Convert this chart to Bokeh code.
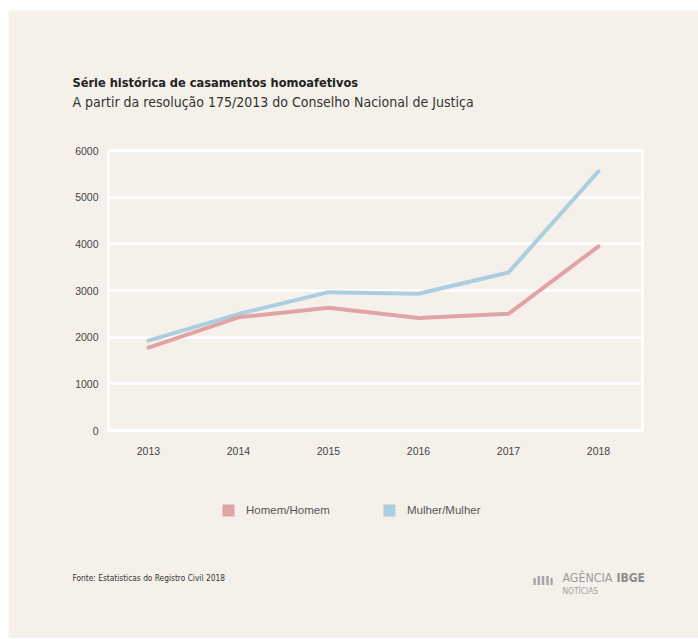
from bokeh.plotting import figure
from bokeh.models import (ColumnDataSource, FixedTicker, Label, Legend, LegendItem, Range1d)
from bokeh.embed import file_html
from bokeh.resources import INLINE

# ---- data ----
years = [2013, 2014, 2015, 2016, 2017, 2018]
homem_homem = [1775, 2425, 2630, 2410, 2500, 3945]
mulher_mulher = [1925, 2495, 2965, 2930, 3385, 5555]
y_ticks = [0, 1000, 2000, 3000, 4000, 5000, 6000]

title_text = "Série histórica de casamentos homoafetivos"
subtitle_text = "A partir da resolução 175/2013 do Conselho Nacional de Justiça"
source_text = "Fonte: Estatisticas do Registro Civil 2018"
series_names = ["Homem/Homem", "Mulher/Mulher"]

BG = "#f5f1ea"
RED = "#e0a4a6"
BLUE = "#a9cfe0"
COND = "DejaVu Sans Condensed"
SANS = "Liberation Sans"
W = 690


def blank_fig(height, margin):
    f = figure(width=W, height=height, output_backend="svg", toolbar_location=None,
               x_range=Range1d(0, W), y_range=Range1d(0, height),
               x_axis_type=None, y_axis_type=None, min_border=0, margin=margin)
    f.background_fill_color = BG
    f.border_fill_color = BG
    f.outline_line_color = None
    f.xgrid.visible = False
    f.ygrid.visible = False
    return f


def lab(f, text, x, y, font, size, color, style="normal"):
    f.add_layout(Label(x=x, y=y, x_units="canvas", y_units="canvas", text=text,
                       text_font=font, text_font_size=size, text_color=color,
                       text_font_style=style, text_baseline="middle", text_align="left"))


# ---- header ----
header = blank_fig(130, (10, 0, 0, 8))
lab(header, title_text, 64, 72, COND, "12.7px", "#222222", "bold")
lab(header, subtitle_text, 64, 91, COND, "14px", "#333333")

# ---- main chart (overlaps the header by 2px to hide the seam) ----
p = figure(width=W, height=332, output_backend="svg", toolbar_location=None,
           x_range=Range1d(2012.556, 2018.489), y_range=Range1d(0, 6000),
           min_border_left=100, min_border_right=56, min_border_top=12, min_border_bottom=40,
           margin=(-2, 0, 0, 8))
p.background_fill_color = BG
p.border_fill_color = BG
p.outline_line_color = "white"
p.outline_line_width = 3
p.xgrid.grid_line_color = None
p.ygrid.grid_line_color = "white"
p.ygrid.grid_line_width = 2.5
p.yaxis.ticker = FixedTicker(ticks=y_ticks)
p.xaxis.ticker = FixedTicker(ticks=years)
for ax in (p.xaxis[0], p.yaxis[0]):
    ax.axis_line_color = None
    ax.major_tick_line_color = None
    ax.minor_tick_line_color = None
    ax.major_tick_out = 0
    ax.major_tick_in = 0
    ax.minor_tick_out = 0
    ax.major_label_text_font = SANS
    ax.major_label_text_font_size = "10.5px"
    ax.major_label_text_color = "#444444"
p.yaxis.major_label_standoff = 10
p.xaxis.major_label_standoff = 16

src = ColumnDataSource(dict(x=years, hh=homem_homem, mm=mulher_mulher))
p.line("x", "mm", source=src, line_color=BLUE, line_width=4, line_cap="round", line_join="round")
p.line("x", "hh", source=src, line_color=RED, line_width=4, line_cap="round", line_join="round")

# ---- footer: legend, source, logo (overlaps the chart by 2px) ----
footer = blank_fig(170, (-2, 0, 0, 8))
# zero-size markers: only their legend swatches are visible
r_hh = footer.scatter("x", "hh", source=src, marker="square", size=0,
                      fill_color=RED, line_color=None)
r_mm = footer.scatter("x", "mm", source=src, marker="square", size=0,
                      fill_color=BLUE, line_color=None)
lg = Legend(items=[LegendItem(label=series_names[0], renderers=[r_hh]),
                   LegendItem(label=series_names[1], renderers=[r_mm])],
            location=(205, 113), orientation="horizontal", padding=0, margin=0, spacing=0,
            glyph_width=30, glyph_height=30, label_height=30, label_width=128, label_standoff=3,
            border_line_color=None, background_fill_alpha=0,
            label_text_font=SANS, label_text_font_size="11.5px", label_text_color="#555555")
footer.add_layout(lg, "center")

lab(footer, source_text, 64, 109, COND, "8.3px", "#333333")
lab(footer, "AGÊNCIA", 554, 109, COND, "12.3px", "#9a9a9a")
lab(footer, "IBGE", 608, 109, COND, "12px", "#8c8c8c", "bold")
lab(footer, "NOTÍCIAS", 554, 122.5, COND, "8.3px", "#a0a0a0")
lab(footer, "ıIIIı", 524, 112, COND, "13px", "#a0a0a0", "bold")

open("out.html", "w").write(file_html([header, p, footer], INLINE))
